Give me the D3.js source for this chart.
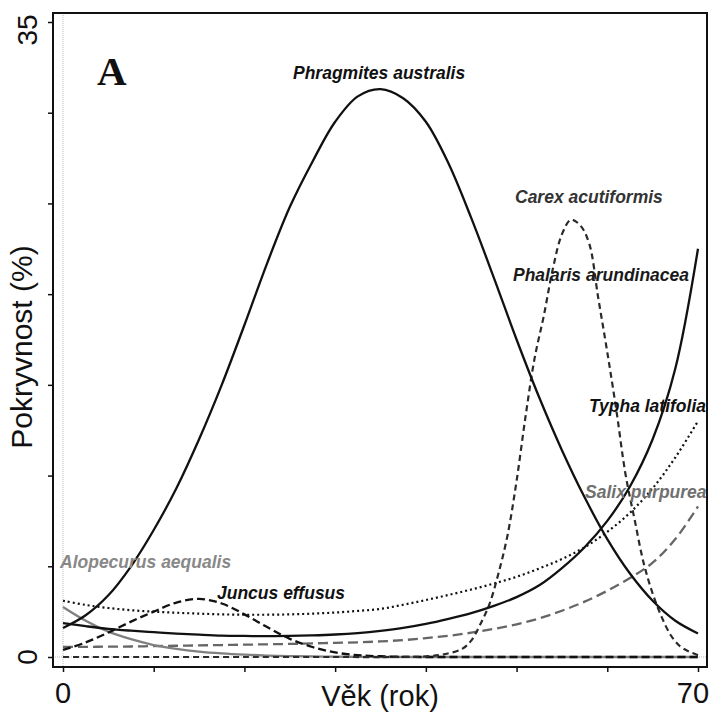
<!DOCTYPE html>
<html>
<head>
<meta charset="utf-8">
<script src="https://cdn.jsdelivr.net/npm/d3@7"></script>
<style>
  html, body { margin: 0; padding: 0; background: #fff; }
  svg { display: block; }
</style>
</head>
<body>
<svg id="chart" width="709" height="712"></svg>
<script>
// ---------------- DATA ----------------
const ages = [0, 2.5, 5, 7.5, 10, 12.5, 15, 17.5, 20, 22.5, 25, 27.5, 30, 32.5, 35,
              37.5, 40, 42.5, 45, 47.5, 50, 52.5, 55, 57.5, 60, 62.5, 65, 67.5, 70];

const phragmites = [1.6, 2.3, 3.4, 5.0, 7.0, 9.3, 12.0, 15.0, 18.3, 21.7, 24.8, 27.3, 29.5, 30.9, 31.3,
                    30.8, 29.5, 27.2, 24.2, 20.9, 17.5, 14.3, 11.4, 8.8, 6.5, 4.6, 3.1, 2.0, 1.3];

const phalaris = [1.87, 1.7, 1.55, 1.45, 1.37, 1.29, 1.23, 1.18, 1.16, 1.15, 1.16, 1.19, 1.24, 1.32, 1.44,
                  1.6, 1.82, 2.1, 2.42, 2.82, 3.3, 3.95, 4.9, 6.05, 7.5, 9.4, 12.0, 15.9, 22.5];

const typha = [3.1, 2.87, 2.7, 2.58, 2.5, 2.44, 2.39, 2.35, 2.33, 2.33, 2.35, 2.39, 2.45, 2.54, 2.65,
               2.88, 3.14, 3.42, 3.72, 4.05, 4.42, 4.88, 5.4, 6.05, 6.9, 7.95, 9.3, 11.0, 13.0];

const salix = [0.55, 0.56, 0.57, 0.58, 0.6, 0.62, 0.64, 0.66, 0.68, 0.7, 0.72, 0.75, 0.78, 0.81, 0.86,
               0.93, 1.04, 1.17, 1.34, 1.55, 1.8, 2.13, 2.55, 3.05, 3.65, 4.35, 5.2, 6.5, 8.3];

const alopecurus = [2.76, 2.0, 1.4, 0.98, 0.66, 0.45, 0.3, 0.2, 0.13, 0.08, 0.05, 0.03, 0.02, 0.01, 0,
                    0, 0, 0, 0, 0, 0, 0, 0, 0, 0, 0, 0, 0, 0];

const juncus = [0.39, 0.8, 1.35, 1.95, 2.5, 3.0, 3.2, 2.95, 2.35, 1.65, 1.0, 0.55, 0.25, 0.1, 0.04,
                0.01, 0, 0, 0, 0, 0, 0, 0, 0, 0, 0, 0, 0, 0];

const carexAges = [0, 10, 20, 30, 36, 40, 42, 44, 45, 46, 47, 48, 49, 50, 51, 52, 53, 54, 55, 56,
                   57, 58, 59, 60, 61, 62, 63, 64, 65, 66, 67, 68, 69, 70];
const carex = [0, 0, 0, 0, 0, 0.03, 0.15, 0.45, 0.9, 1.8, 2.9, 4.6, 6.7, 9.7, 13.3, 16.5, 18.8, 21.4, 23.3, 24.1,
               23.8, 22.8, 19.8, 16.8, 13.6, 10.1, 7.6, 5.2, 3.5, 2.2, 1.2, 0.6, 0.3, 0.1];

const speciesNames = ["Phragmites australis", "Carex acutiformis", "Phalaris arundinacea",
                      "Typha latifolia", "Salix purpurea", "Alopecurus aequalis", "Juncus effusus"];

const xTickValues = [0, 10, 20, 30, 40, 50, 60, 70];
const xTickLabels = ["0", "70"];
const yTickValues = [0, 5, 10, 15, 20, 25, 30, 35];
const yTickLabels = ["0", "35"];
const xTitle = "Věk (rok)";
const yTitle = "Pokryvnost (%)";
const panelLetter = "A";

// ---------------- LAYOUT ----------------
const svg = d3.select("#chart");
const box = { left: 53, top: 13, right: 707, bottom: 667 };

const x = d3.scaleLinear().domain([0, 70]).range([63, 698]);
const y = d3.scaleLinear().domain([0, 35]).range([657, 22]);

const font = "'Liberation Sans', Arial, Helvetica, sans-serif";

// reference lines (light gray dotted)
svg.append("line")
  .attr("x1", x(0)).attr("x2", x(0)).attr("y1", box.top).attr("y2", box.bottom)
  .attr("stroke", "#bbb").attr("stroke-width", 1).attr("stroke-dasharray", "1,1");
svg.append("line")
  .attr("x1", box.left).attr("x2", box.right).attr("y1", y(0)).attr("y2", y(0))
  .attr("stroke", "#bbb").attr("stroke-width", 1).attr("stroke-dasharray", "1,1");

// ---------------- CURVES ----------------
function pts(xs, ys) { return xs.map((a, i) => [a, ys[i]]); }
const line = d3.line().x(d => x(d[0])).y(d => y(Math.max(0, d[1]))).curve(d3.curveCatmullRom.alpha(0.5));

const series = [
  { data: pts(ages, salix), stroke: "#666", width: 2.3, dash: "10,5" },
  { data: pts(ages, alopecurus), stroke: "#808080", width: 2.3, dash: null },
  { data: pts(ages, typha), stroke: "#111", width: 2.2, dash: "2,3" },
  { data: pts(ages, juncus), stroke: "#111", width: 2.3, dash: "8,4" },
  { data: pts(carexAges, carex), stroke: "#2a2a2a", width: 2.2, dash: "6,4" },
  { data: pts(ages, phalaris), stroke: "#111", width: 2.3, dash: null },
  { data: pts(ages, phragmites), stroke: "#111", width: 2.3, dash: null }
];

svg.append("g").selectAll("path").data(series).join("path")
  .attr("d", d => line(d.data))
  .attr("fill", "none")
  .attr("stroke", d => d.stroke)
  .attr("stroke-width", d => d.width)
  .attr("stroke-dasharray", d => d.dash);

// ---------------- FRAME & AXES ----------------
svg.append("rect")
  .attr("x", box.left).attr("y", box.top)
  .attr("width", box.right - box.left).attr("height", box.bottom - box.top)
  .attr("fill", "none").attr("stroke", "#111").attr("stroke-width", 2);

const yAxis = d3.axisLeft(y).tickValues(yTickValues).tickSize(5).tickFormat("").tickSizeOuter(0);
const gy = svg.append("g").attr("transform", `translate(${box.left},0)`).call(yAxis);
gy.select(".domain").remove();
gy.selectAll(".tick line").attr("stroke", "#111").attr("stroke-width", 1.5);

const xAxis = d3.axisBottom(x).tickValues(xTickValues).tickSize(5).tickFormat("").tickSizeOuter(0);
const gx = svg.append("g").attr("transform", `translate(0,${box.bottom})`).call(xAxis);
gx.select(".domain").remove();
gx.selectAll(".tick line").attr("stroke", "#111").attr("stroke-width", 1.5);

// tick labels
const yLabelPos = [y(0), y(35) + 8];
yTickLabels.forEach((t, i) => {
  svg.append("text")
    .attr("transform", `translate(37,${yLabelPos[i]}) rotate(-90)`)
    .attr("text-anchor", "middle")
    .attr("font-family", font).attr("font-size", 28).attr("fill", "#111")
    .text(t);
});
const xLabelPos = [x(0), x(70) - 5];
xTickLabels.forEach((t, i) => {
  svg.append("text")
    .attr("x", xLabelPos[i]).attr("y", 703)
    .attr("text-anchor", "middle")
    .attr("font-family", font).attr("font-size", 29).attr("fill", "#111")
    .text(t);
});

// axis titles
svg.append("text")
  .attr("x", 380).attr("y", 706)
  .attr("text-anchor", "middle")
  .attr("font-family", font).attr("font-size", 29).attr("fill", "#111")
  .text(xTitle);
svg.append("text")
  .attr("transform", "translate(32,347) rotate(-90)")
  .attr("text-anchor", "middle")
  .attr("font-family", font).attr("font-size", 30).attr("fill", "#111")
  .text(yTitle);

// panel letter
svg.append("text")
  .attr("x", 97).attr("y", 85)
  .attr("font-family", "'Liberation Serif', 'Times New Roman', serif")
  .attr("font-weight", "bold").attr("font-size", 41).attr("fill", "#111")
  .text(panelLetter);

// ---------------- SPECIES LABELS ----------------
const labelStyle = [
  { x: 293, y: 79, fill: "#111" },
  { x: 515, y: 203, fill: "#333" },
  { x: 513, y: 281, fill: "#1a1a1a" },
  { x: 589, y: 412, fill: "#111" },
  { x: 585, y: 498, fill: "#707070" },
  { x: 60, y: 568, fill: "#888" },
  { x: 217, y: 599, fill: "#111" }
];
svg.append("g").selectAll("text").data(speciesNames).join("text")
  .attr("x", (d, i) => labelStyle[i].x)
  .attr("y", (d, i) => labelStyle[i].y)
  .attr("fill", (d, i) => labelStyle[i].fill)
  .attr("font-family", font)
  .attr("font-weight", "bold").attr("font-style", "italic")
  .attr("font-size", 17.5)
  .text(d => d);
</script>
</body>
</html>
